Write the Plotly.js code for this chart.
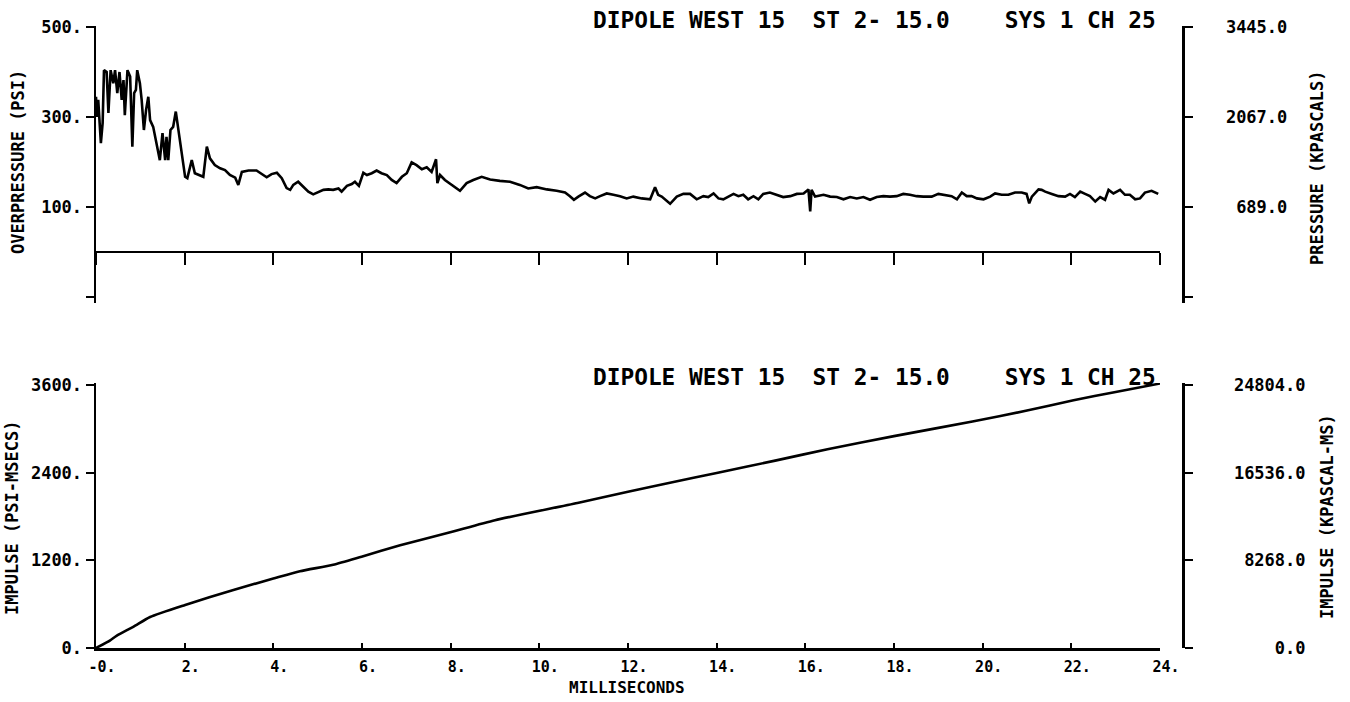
<!DOCTYPE html>
<html>
<head>
<meta charset="utf-8">
<script src="https://cdn.plot.ly/plotly-3.0.1.min.js"></script>
<style>html,body{margin:0;padding:0;background:#fff;}#chart{width:1350px;height:702px;}</style>
</head>
<body>
<div id="chart"></div>
<script>
// ---- Overpressure record (time in ms, overpressure in psi) ----
var pressureTime = [0.00,0.02,0.05,0.11,0.15,0.18,0.24,0.28,0.33,0.39,0.43,0.48,0.53,0.58,0.62,0.65,0.71,0.77,0.82,0.86,0.90,0.93,0.99,1.03,1.08,1.13,1.18,1.22,1.29,1.37,1.44,1.50,1.56,1.59,1.63,1.68,1.74,1.80,1.86,1.93,2.01,2.06,2.16,2.23,2.35,2.42,2.50,2.57,2.68,2.80,2.91,3.02,3.14,3.21,3.29,3.44,3.62,3.74,3.85,3.96,4.08,4.19,4.30,4.38,4.45,4.56,4.68,4.79,4.90,5.01,5.13,5.24,5.35,5.47,5.54,5.66,5.77,5.84,5.93,6.03,6.11,6.22,6.33,6.44,6.56,6.67,6.78,6.90,7.01,7.12,7.23,7.35,7.46,7.57,7.67,7.70,7.76,7.87,8.02,8.10,8.21,8.36,8.51,8.70,8.89,9.11,9.34,9.56,9.75,9.94,10.17,10.39,10.58,10.69,10.78,10.88,11.03,11.14,11.26,11.37,11.52,11.67,11.82,11.97,12.12,12.31,12.50,12.61,12.68,12.76,12.95,13.10,13.25,13.40,13.55,13.70,13.81,13.93,14.04,14.15,14.26,14.38,14.49,14.60,14.71,14.83,14.94,15.05,15.20,15.36,15.50,15.66,15.81,15.96,16.07,16.11,16.14,16.22,16.41,16.56,16.71,16.86,17.01,17.16,17.31,17.46,17.61,17.76,17.91,18.06,18.21,18.36,18.51,18.66,18.85,19.00,19.15,19.30,19.42,19.53,19.64,19.75,19.87,20.02,20.17,20.28,20.43,20.58,20.73,20.88,20.99,21.05,21.11,21.18,21.26,21.33,21.41,21.56,21.71,21.86,21.97,22.08,22.20,22.31,22.42,22.54,22.65,22.76,22.84,22.95,23.02,23.10,23.21,23.32,23.44,23.55,23.66,23.81,23.96];
var pressurePsi  = [345,300,338,242,287,404,400,309,404,375,404,353,400,338,382,304,404,390,234,353,360,404,375,338,271,316,345,293,278,241,204,264,204,256,204,271,278,312,271,219,167,164,204,175,171,167,234,208,193,186,182,171,165,149,178,181,181,173,166,173,176,164,142,138,149,156,145,134,128,132,138,139,138,141,134,147,151,156,147,176,171,175,181,175,171,160,153,167,175,199,193,184,188,178,206,153,171,160,149,145,136,153,160,167,161,158,156,149,141,144,139,136,132,124,116,123,132,124,119,124,130,127,124,119,123,119,117,144,127,123,107,123,129,129,117,124,122,130,119,117,122,129,124,127,117,124,117,129,132,127,122,124,129,130,139,90,138,123,127,123,122,117,122,119,122,116,122,124,123,124,129,127,124,123,123,129,127,124,117,132,124,124,119,117,123,130,127,127,132,132,129,108,123,130,139,138,134,129,124,123,129,122,134,129,124,112,122,116,138,130,134,138,127,127,117,119,132,136,129];

// ---- Impulse record (time in ms, impulse in psi-ms) ----
var impulseTime = [0.00,0.32,0.47,0.84,1.22,2.01,3.10,4.00,4.60,5.35,5.99,6.86,7.99,9.00,10.86,12.00,13.00,14.00,15.32,16.50,18.00,19.77,21.00,22.05,23.00,24.00];
var impulsePsiMs = [0,105,170,290,425,590,795,950,1050,1140,1250,1405,1585,1750,1985,2140,2270,2395,2565,2720,2900,3100,3250,3390,3505,3620];

// ---- Labels ----
var chartTitle = "DIPOLE WEST 15  ST 2- 15.0    SYS 1 CH 25";
var timeTicks = [0,2,4,6,8,10,12,14,16,18,20,22,24];
var timeTickText = ["-0.","2.","4.","6.","8.","10.","12.","14.","16.","18.","20.","22.","24."];
var psiTicks = [500,300,100,-100];
var psiTickText = ["500.","300.","100.",""];
var kpaTicks = [3445,2067,689,-689];
var kpaTickText = ["3445.0","2067.0"," 689.0",""];
var impTicks = [3600,2400,1200,0];
var impTickText = ["3600.","2400.","1200.","0."];
var kpaMsTicks = [24804,16536,8268,0];
var kpaMsTickText = ["24804.0","16536.0"," 8268.0","    0.0"];
var psiToKpa = 6.89;

function nb(s){ return s.replace(/ /g, "\u00A0"); }

var FONT = "DejaVu Sans Mono, Liberation Mono, monospace";
var tickFont = {family: FONT, size: 17, color: "#000", weight: 700};

var topRange = [-113, 502.2];
var botRange = [0, 3627];
var topDomain = [0.555, 1.0];
var botDomain = [0, 0.426];
var xDomain = [0, 0.97884];
var zeroPos = topDomain[0] + (0 - topRange[0]) / (topRange[1] - topRange[0]) * (topDomain[1] - topDomain[0]);

var traces = [
  {x: pressureTime, y: pressurePsi, xaxis: "x", yaxis: "y", type: "scatter", mode: "lines",
   line: {color: "#000", width: 2.6}, hoverinfo: "skip"},
  {x: [], y: [], xaxis: "x", yaxis: "y2", type: "scatter", mode: "lines", hoverinfo: "skip"},
  {x: impulseTime, y: impulsePsiMs, xaxis: "x2", yaxis: "y3", type: "scatter", mode: "lines",
   line: {color: "#000", width: 2.6, shape: "spline", smoothing: 0.6}, hoverinfo: "skip"},
  {x: [], y: [], xaxis: "x2", yaxis: "y4", type: "scatter", mode: "lines", hoverinfo: "skip"}
];

var axisCommon = {showgrid: false, zeroline: false, showline: true, linecolor: "#000", linewidth: 2.5,
  tickcolor: "#000", tickwidth: 2, tickfont: tickFont, tickmode: "array", fixedrange: true};

var layout = {
  width: 1350, height: 702,
  margin: {l: 96, r: 167, t: 26, b: 54, pad: 0},
  paper_bgcolor: "#fff", plot_bgcolor: "#fff",
  showlegend: false,
  font: {family: FONT, color: "#000"},
  xaxis: Object.assign({}, axisCommon, {domain: xDomain, range: [0, 24], anchor: "free", position: zeroPos,
    tickvals: timeTicks, ticks: "outside", ticklen: 12, showticklabels: false}),
  yaxis: Object.assign({}, axisCommon, {domain: topDomain, range: topRange, anchor: "x",
    tickvals: psiTicks, ticktext: psiTickText, ticks: "outside", ticklen: 8, ticklabelstandoff: 0}),
  yaxis2: Object.assign({}, axisCommon, {overlaying: "y", side: "right", anchor: "free", position: 1,
    range: [topRange[0] * psiToKpa, topRange[1] * psiToKpa],
    tickvals: kpaTicks, ticktext: kpaTickText.map(nb), ticks: "outside", ticklen: 8, ticklabelstandoff: 30}),
  xaxis2: Object.assign({}, axisCommon, {domain: xDomain, range: [0, 24], anchor: "y3",
    tickvals: timeTicks, ticktext: timeTickText, ticks: "inside", ticklen: 5,
    tickfont: {family: FONT, size: 15, color: "#000", weight: 700},
    ticklabelshift: 6, ticklabelstandoff: 3}),
  yaxis3: Object.assign({}, axisCommon, {domain: botDomain, range: botRange, anchor: "x2",
    tickvals: impTicks, ticktext: impTickText, ticks: "outside", ticklen: 8, ticklabelstandoff: 0}),
  yaxis4: Object.assign({}, axisCommon, {overlaying: "y3", side: "right", anchor: "free", position: 1,
    range: [botRange[0] * psiToKpa, botRange[1] * psiToKpa],
    tickvals: kpaMsTicks, ticktext: kpaMsTickText.map(nb), ticks: "outside", ticklen: 8, ticklabelstandoff: 38}),
  annotations: [
    {text: nb(chartTitle), xref: "paper", yref: "paper", x: 0.977, y: 1.0096, xanchor: "right", yanchor: "middle",
     showarrow: false, font: {family: FONT, size: 22.8, weight: 700, color: "#000"}},
    {text: nb(chartTitle), xref: "paper", yref: "paper", x: 0.977, y: 0.4357, xanchor: "right", yanchor: "middle",
     showarrow: false, font: {family: FONT, size: 22.8, weight: 700, color: "#000"}},
    {text: nb("OVERPRESSURE (PSI)"), xref: "paper", yref: "paper", x: -0.0718, y: 0.7814, xanchor: "center", yanchor: "middle",
     textangle: -90, showarrow: false, font: {family: FONT, size: 17, weight: 700, color: "#000"}},
    {text: nb("IMPULSE (PSI-MSECS)"), xref: "paper", yref: "paper", x: -0.0773, y: 0.209, xanchor: "center", yanchor: "middle",
     textangle: -90, showarrow: false, font: {family: FONT, size: 17, weight: 700, color: "#000"}},
    {text: nb("PRESSURE (KPASCALS)"), xref: "paper", yref: "paper", x: 1.1233, y: 0.7717, xanchor: "center", yanchor: "middle",
     textangle: -90, showarrow: false, font: {family: FONT, size: 17, weight: 700, color: "#000"}},
    {text: nb("IMPULSE (KPASCAL-MS)"), xref: "paper", yref: "paper", x: 1.1325, y: 0.2106, xanchor: "center", yanchor: "middle",
     textangle: -90, showarrow: false, font: {family: FONT, size: 17, weight: 700, color: "#000"}},
    {text: "MILLISECONDS", xref: "paper", yref: "paper", x: 0.4885, y: -0.0643, xanchor: "center", yanchor: "middle",
     showarrow: false, font: {family: FONT, size: 16, weight: 700, color: "#000"}}
  ]
};

Plotly.newPlot("chart", traces, layout, {staticPlot: true, displayModeBar: false});
</script>
</body>
</html>
